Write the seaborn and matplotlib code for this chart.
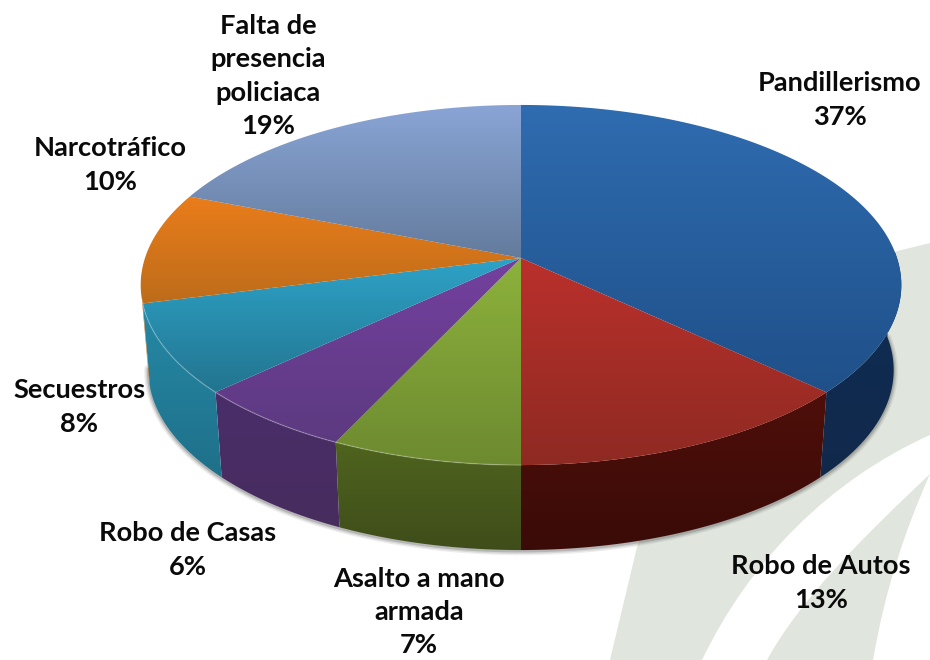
import numpy as np
import matplotlib
matplotlib.use("Agg")
import matplotlib.pyplot as plt
from matplotlib.patches import Polygon, PathPatch
from matplotlib.path import Path
from matplotlib.colors import LinearSegmentedColormap
import seaborn as sns

# ---- data ----
categories = ["Pandillerismo", "Robo de Autos", "Asalto a mano\narmada", "Robo de Casas",
              "Secuestros", "Narcotráfico", "Falta de\npresencia\npoliciaca"]
values = [37, 13, 7, 6, 8, 10, 19]

# ---- styles ----
top_start = ["#2f6cb0", "#bb302c", "#8db23c", "#74409f", "#2ea3c8", "#ea7d1a", "#8aa5d6"]
top_end = ["#1f5089", "#8e2a22", "#6d8a30", "#5c3a80", "#22748f", "#bd6c1b", "#637b9c"]
side_start = ["#0e2d55", "#4f0f0a", "#4f641e", "#4a2e6a", "#2589a6", "#b5691c", "#5e7694"]
side_end = ["#11294b", "#3a0b07", "#3f4d1a", "#472c5e", "#1f7089", "#b5691c", "#5e7694"]
label_pos = [(840, 100), (821, 583), (419, 612), (188, 550), (79, 407), (110, 165), (268, 76)]

CX, CY, A, B, K = 521.0, 258.0, 376.0, 176.0, 0.15
DEPTH, SHRINK = 85.0, 0.98

sns.set_theme(style="white")
plt.rcParams["font.family"] = ["Lato", "DejaVu Sans"]
top_colors = sns.color_palette(top_start)
top_colors2 = sns.color_palette(top_end)

fig = plt.figure(figsize=(9.3, 6.6), dpi=100)
ax = fig.add_axes([0, 0, 1, 1])
ax.set_axis_off()


def rim(deg):
    t = np.radians(deg)
    u, v = np.sin(t), np.cos(t)
    w = 1 + K * v
    return CX + A * u / w, CY - B * v / w


def lower(x, y):
    return CX + SHRINK * (x - CX), y + DEPTH


def grad_fill(verts, c0, c1, zorder):
    verts = np.asarray(verts)
    cmap = LinearSegmentedColormap.from_list("g", [c0, c1])
    x0, y0 = verts.min(axis=0)
    x1, y1 = verts.max(axis=0)
    im = ax.imshow(np.linspace(0, 1, 128)[:, None], cmap=cmap, vmin=0, vmax=1, aspect="auto",
                   extent=(x0 - 1, x1 + 1, y1 + 1, y0 - 1), origin="upper",
                   interpolation="bilinear", zorder=zorder)
    patch = Polygon(verts, closed=True, transform=ax.transData, fc="none", ec="none")
    ax.add_patch(patch)
    im.set_clip_path(patch)


# watermark behind the pie
GRAY = "#e0e5dd"
C4, L2 = Path.CURVE4, Path.LINETO
wm_a = Path([(930, 243), (700, 300), (660, 480), (637, 547), (610, 660), (702, 660),
             (750, 560), (830, 480), (930, 435), (930, 243)],
            [Path.MOVETO, L2, L2, L2, L2, L2, C4, C4, C4, Path.CLOSEPOLY])
wm_b = Path([(930, 474), (860, 540), (800, 600), (767, 660), (873, 660),
             (885, 590), (905, 530), (930, 474), (930, 474)],
            [Path.MOVETO, C4, C4, C4, L2, C4, C4, C4, Path.CLOSEPOLY])
ax.add_patch(PathPatch(wm_a, fc=GRAY, ec="none", zorder=1))
ax.add_patch(PathPatch(wm_b, fc=GRAY, ec="none", zorder=1))

edges = np.concatenate([[0], np.cumsum(values)]) * 360.0 / sum(values)

# soft shadow under the rim
sd = np.linspace(88, 262, 200)
sx, sy = rim(sd)
sx, sy = lower(sx, sy)
for lw, al in [(6, 0.10), (4, 0.15), (2, 0.25)]:
    ax.plot(sx, sy + 1, color="#555555", lw=lw, alpha=al, zorder=2, solid_capstyle="round")

# side walls
for i in range(len(values)):
    lo, hi = max(edges[i], 88.0), min(edges[i + 1], 257.0)
    if hi <= lo:
        continue
    d = np.linspace(lo, hi, 80)
    x, y = rim(d)
    bx, by = lower(x, y)
    verts = np.column_stack([np.r_[x, bx[::-1]], np.r_[y, by[::-1]]])
    grad_fill(verts, side_start[i], side_end[i], 3)

# top faces
for i in range(len(values)):
    d = np.linspace(edges[i], edges[i + 1], 120)
    x, y = rim(d)
    verts = np.column_stack([np.r_[CX, x], np.r_[CY, y]])
    grad_fill(verts, top_colors[i], top_colors2[i], 4)

# light edge along the front of the top face
d = np.linspace(180, 257, 80)
x, y = rim(d)
ax.plot(x, y, color="white", lw=1, alpha=0.22, zorder=5)

# labels
for name, val, (lx, ly) in zip(categories, values, label_pos):
    ax.text(lx, ly, f"{name}\n{val}%", ha="center", va="center", multialignment="center",
            fontsize=19.6, fontweight="bold", color="#0a0a0a", linespacing=1.46, zorder=6)

ax.set_xlim(0, 930)
ax.set_ylim(660, 0)
fig.savefig("out.png", dpi=100, facecolor="white")
